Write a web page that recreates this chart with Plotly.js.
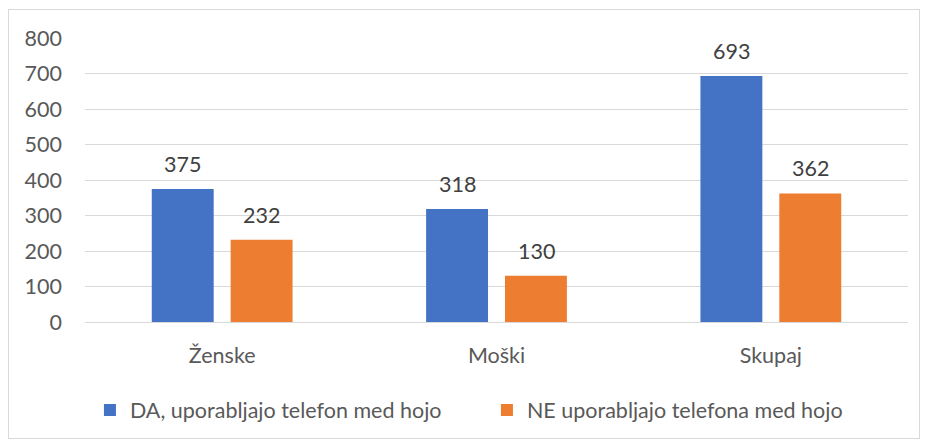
<!DOCTYPE html>
<html><head><meta charset="utf-8">
<script src="https://cdn.plot.ly/plotly-3.0.1.min.js"></script>
<style>
body{margin:0;padding:0;background:#fff;}
#frame{position:absolute;left:8px;top:9px;width:912px;height:430px;border:1px solid #d9d9d9;box-sizing:border-box;}
#chart{position:absolute;left:0;top:0;width:925px;height:439px;}
</style></head>
<body>
<div id="frame"></div>
<div id="chart"></div>
<script>
var categories = ["Ženske", "Moški", "Skupaj"];
var seriesNames = ["DA, uporabljajo telefon med hojo", "NE uporabljajo telefona med hojo"];
var daValues = [375, 318, 693];
var neValues = [232, 130, 362];
var yTicks = [0, 100, 200, 300, 400, 500, 600, 700, 800];

var font = "Lato, 'Open Sans', sans-serif";
var fs = 21.5;
var traces = [
  {type:"bar", name:seriesNames[0], x:categories, y:daValues, marker:{color:"#4472C4"}},
  {type:"bar", name:seriesNames[1], x:categories, y:neValues, marker:{color:"#ED7D31"}}
];
var annotations = [];
[daValues, neValues].forEach(function(vals, si){
  vals.forEach(function(v, i){
    annotations.push({x:categories[i], y:v, xref:"x", yref:"y", text:String(v), showarrow:false,
      xanchor:"center", yanchor:"bottom", xshift:(si===0?-39.5:39.5), yshift:10,
      font:{family:font, size:fs, color:"#404040"}});
  });
});
var layout = {
  width:925, height:439,
  margin:{l:85, r:17, t:38, b:117, pad:0, autoexpand:false},
  paper_bgcolor:"rgba(0,0,0,0)", plot_bgcolor:"rgba(0,0,0,0)",
  font:{family:font, size:fs, color:"#595959"},
  barmode:"group", bargap:0.425, bargroupgap:0.215,
  showlegend:true,
  legend:{orientation:"h", x:0.006, xanchor:"left", y:-0.31, yanchor:"middle", font:{size:fs,color:"#595959"}, traceorder:"normal", itemwidth:30, entrywidth:352},
  xaxis:{showgrid:false, showline:true, linecolor:"#d9d9d9", linewidth:1, ticks:"", ticklabelstandoff:14, tickfont:{size:fs}},
  yaxis:{range:[0,800], tickvals:yTicks, showgrid:true, gridcolor:"#d9d9d9", gridwidth:1, zeroline:false, showline:false, ticks:"", ticklabelstandoff:22, tickfont:{size:fs}},
  annotations:annotations
};
Plotly.newPlot("chart", traces, layout, {displayModeBar:false, staticPlot:true});
</script>
</body></html>
